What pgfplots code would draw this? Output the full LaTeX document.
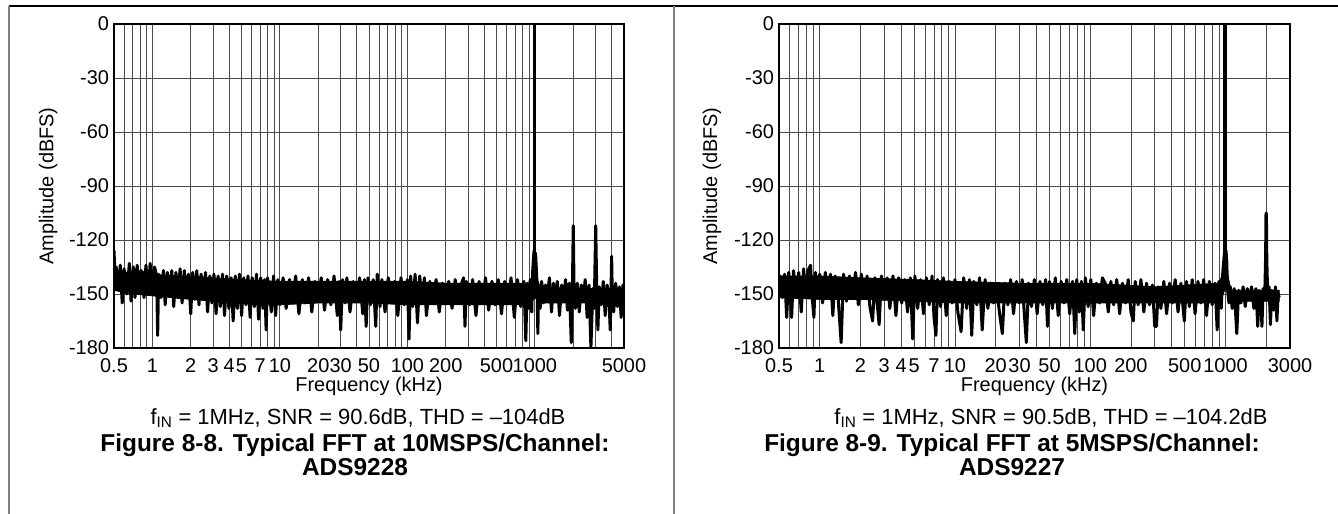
\documentclass[border=0pt]{standalone}
\usepackage{fontspec}
\setmainfont{Liberation Sans}
\usepackage{pgfplots}
\pgfplotsset{compat=1.18}

\begin{document}
\begin{tikzpicture}
\path[use as bounding box] (0,0) rectangle (1338bp,514bp);
\draw[black, line width=1.2bp] (9bp,508bp) -- (1338bp,508bp);
\draw[black!50, line width=1.5bp] (9bp,508bp) -- (9bp,0);
\draw[black!50, line width=1.5bp] (674bp,508bp) -- (674bp,0);

% ---------------- Left: ADS9228, 10 MSPS ----------------
\begin{axis}[at={(114bp,166bp)}, anchor=south west,
  xmode=log, scale only axis, width=510bp, height=324bp,
  ymin=-180, ymax=0, xmin=0.5, xmax=5000,
  ytick={-180,-150,-120,-90,-60,-30,0},
  yticklabels={-180,-150,-120,-90,-60,-30,0},
  xtick={0.5,1,2,3,4,5,7,10,20,30,50,100,200,500,1000,5000},
  xticklabels={0.5,1,2,3,4,5,7,10,20,30,50,100,200,500,1000,5000},
  minor xtick={0.6,0.7,0.8,0.9,6,8,9,40,60,70,80,90,300,400,600,700,800,900,2000,3000,4000},
  grid=both,
  major grid style={line width=0.8bp, draw=black!70},
  minor grid style={line width=0.8bp, draw=black!70},
  major tick length=0pt, minor tick length=0pt,
  axis line style={line width=2.2bp},
  tick label style={font=\fontsize{20}{22}\selectfont},
  label style={font=\fontsize{20}{22}\selectfont},
  xticklabel style={anchor=base, yshift=-24.5bp},
  yticklabel style={xshift=-1.5bp},
  xlabel={Frequency (kHz)}, ylabel={Amplitude (dBFS)},
  xlabel style={at={(axis description cs:0.5,0)}, anchor=base, yshift=-43.5bp},
  ylabel style={at={(axis description cs:-0.129,0.5)}, anchor=center}]
\addplot[fill=black, draw=black, line width=0.8bp, mark=none] coordinates {
(0.5,-138) (0.6,-138) (0.8,-137) (1,-139) (1.5,-140) (2,-140) (3,-141) (5,-142) (10,-143) (20,-143) (50,-143) (100,-143) (200,-144) (500,-144) (900,-144) (1000,-138) (1100,-146) (2000,-147) (5000,-147)
(5000,-155) (3000,-155) (2000,-155) (1100,-155) (1000,-152) (900,-156) (500,-156) (200,-156) (100,-156) (50,-155) (20,-155) (10,-156) (5,-155) (3,-154) (2,-153) (1,-151) (0.7,-150) (0.5,-148)
};
\addplot[black, line width=3bp, line join=round, mark=none] coordinates {
(0.50,-126) (0.51,-140) (0.52,-135) (0.54,-147) (0.56,-134) (0.58,-155) (0.60,-136) (0.63,-150) (0.66,-133) (0.68,-154)
(0.71,-135) (0.73,-152) (0.76,-134) (0.79,-149) (0.82,-137) (0.86,-152) (0.89,-134) (0.93,-150) (0.96,-133) (1.00,-148)
(1.04,-135) (1.08,-140) (1.10,-173) (1.12,-139) (1.17,-152) (1.22,-137) (1.26,-156) (1.31,-138) (1.36,-151) (1.42,-137)
(1.47,-157) (1.53,-138) (1.58,-152) (1.65,-136) (1.71,-155) (1.78,-137) (1.85,-150) (1.92,-139) (2.00,-161) (2.07,-138)
(2.15,-153) (2.23,-137) (2.32,-156) (2.41,-139) (2.51,-152) (2.61,-138) (2.71,-160) (2.82,-140) (2.93,-155) (3.04,-139)
(3.16,-161) (3.28,-140) (3.41,-157) (3.55,-139) (3.68,-162) (3.83,-140) (3.98,-158) (4.14,-141) (4.30,-165) (4.47,-140)
(4.64,-158) (4.82,-139) (5.01,-162) (5.21,-141) (5.41,-156) (5.62,-140) (5.84,-163) (6.07,-141) (6.31,-157) (6.56,-139)
(6.81,-164) (7.08,-141) (7.36,-158) (7.60,-142) (7.80,-170) (8.00,-141) (8.58,-160) (8.92,-140) (9.26,-162) (9.63,-142)
(10.0,-156) (10.6,-141) (11.2,-158) (11.9,-142) (12.6,-154) (13.3,-140) (14.1,-161) (15.0,-142) (15.8,-155) (16.8,-141)
(17.8,-160) (18.8,-143) (20.0,-153) (21.1,-141) (22.4,-159) (23.7,-142) (25.1,-156) (26.6,-140) (28.2,-162) (29.2,-143)
(30.0,-170) (31.0,-142) (32.5,-155) (33.5,-141) (35.5,-160) (37.6,-143) (39.8,-154) (42.2,-141) (44.7,-161) (46.0,-142)
(47.5,-168) (49.0,-141) (51.3,-156) (54.0,-142) (56.5,-168) (58.0,-139) (61.0,-157) (63.1,-142) (66.8,-160) (70.8,-141)
(75.0,-155) (79.4,-143) (84.1,-162) (89.1,-141) (94.4,-156) (100,-142) (103,-175) (106,-140) (110,-157) (115,-139)
(120,-166) (125,-140) (130,-155) (136,-141) (141,-162) (150,-143) (158,-154) (168,-142) (178,-160) (188,-144)
(200,-155) (211,-143) (224,-158) (237,-142) (251,-153) (266,-144) (276,-141) (283,-168) (290,-143) (308,-156)
(325,-142) (345,-162) (365,-143) (387,-155) (410,-141) (434,-159) (460,-143) (487,-156) (516,-142) (547,-161)
(580,-143) (614,-155) (650,-141) (690,-163) (730,-142) (775,-157) (820,-143) (849,-176) (870,-144) (900,-158)
(920,-142) (945,-160) (960,-138) (975,-130) (985,-126) (995,-128) (1005,-127) (1015,-129) (1025,-135) (1040,-145)
(1055,-172) (1070,-146) (1100,-158) (1130,-143) (1170,-155) (1210,-145) (1250,-152) (1300,-141) (1350,-160) (1400,-144)
(1450,-154) (1500,-143) (1560,-162) (1620,-145) (1680,-153) (1740,-142) (1800,-159) (1860,-144) (1930,-177) (1970,-146)
(2000,-112) (2030,-148) (2080,-158) (2150,-144) (2230,-160) (2310,-145) (2400,-153) (2480,-142) (2570,-163) (2660,-145)
(2750,-180) (2850,-147) (2920,-158) (3000,-112) (3060,-150) (3120,-170) (3200,-146) (3320,-156) (3440,-143) (3560,-162)
(3690,-145) (3820,-155) (3900,-170) (3960,-146) (4000,-129) (4040,-148) (4150,-160) (4300,-144) (4450,-157) (4600,-146)
(4750,-163) (4900,-145) (5000,-150)
};
\addplot[black, line width=3bp, mark=none] coordinates {(1000,-140) (1000,0)};
\end{axis}

% ---------------- Right: ADS9227, 5 MSPS ----------------
\begin{axis}[at={(779bp,166bp)}, anchor=south west,
  xmode=log, scale only axis, width=511bp, height=324bp,
  ymin=-180, ymax=0, xmin=0.5, xmax=3000,
  ytick={-180,-150,-120,-90,-60,-30,0},
  yticklabels={-180,-150,-120,-90,-60,-30,0},
  xtick={0.5,1,2,3,4,5,7,10,20,30,50,100,200,500,1000,3000},
  xticklabels={0.5,1,2,3,4,5,7,10,20,30,50,100,200,500,1000,3000},
  minor xtick={0.6,0.7,0.8,0.9,6,8,9,40,60,70,80,90,300,400,600,700,800,900,2000},
  grid=both,
  major grid style={line width=0.8bp, draw=black!70},
  minor grid style={line width=0.8bp, draw=black!70},
  major tick length=0pt, minor tick length=0pt,
  axis line style={line width=2.2bp},
  tick label style={font=\fontsize{20}{22}\selectfont},
  label style={font=\fontsize{20}{22}\selectfont},
  xticklabel style={anchor=base, yshift=-24.5bp},
  yticklabel style={xshift=-1.5bp},
  xlabel={Frequency (kHz)}, ylabel={Amplitude (dBFS)},
  xlabel style={at={(axis description cs:0.5,0)}, anchor=base, yshift=-43.5bp},
  ylabel style={at={(axis description cs:-0.131,0.5)}, anchor=center}]
\addplot[fill=black, draw=black, line width=0.8bp, mark=none] coordinates {
(0.5,-140) (1,-140) (2,-141) (5,-142) (10,-143) (30,-144) (100,-144) (300,-146) (900,-144) (1000,-133) (1100,-148) (2500,-148)
(2500,-154) (1100,-154) (1000,-147) (900,-155) (300,-155) (100,-155) (30,-155) (10,-155) (5,-154) (2,-153) (1,-153) (0.5,-152)
};
\addplot[black, line width=3bp, line join=round, mark=none] coordinates {
(0.50,-150) (0.51,-140) (0.53,-152) (0.55,-139) (0.57,-163) (0.59,-138) (0.62,-163) (0.64,-137) (0.67,-152) (0.70,-138)
(0.73,-160) (0.76,-136) (0.79,-150) (0.82,-137) (0.855,-134) (0.88,-152) (0.906,-163) (0.93,-138) (0.97,-150) (1.00,-139)
(1.05,-155) (1.10,-138) (1.15,-152) (1.20,-139) (1.25,-162) (1.30,-140) (1.37,-153) (1.44,-177) (1.50,-139) (1.58,-154)
(1.66,-140) (1.75,-150) (1.84,-138) (1.93,-156) (2.03,-139) (2.13,-152) (2.24,-140) (2.35,-157) (2.46,-165) (2.56,-141)
(2.65,-154) (2.75,-167) (2.86,-140) (3.00,-153) (3.15,-141) (3.30,-158) (3.48,-140) (3.66,-162) (3.84,-141) (4.04,-155)
(4.25,-142) (4.46,-160) (4.68,-141) (4.87,-175) (5.05,-140) (5.30,-158) (5.56,-142) (5.85,-161) (6.15,-141) (6.45,-156)
(6.77,-140) (7.00,-163) (7.23,-173) (7.45,-142) (7.82,-157) (8.21,-141) (8.62,-162) (9.05,-143) (9.50,-155) (10.0,-142)
(10.5,-160) (11.1,-171) (11.6,-141) (12.2,-158) (12.8,-142) (13.3,-173) (13.8,-143) (14.5,-156) (15.2,-141) (15.9,-170)
(16.7,-142) (17.5,-158) (18.4,-144) (19.3,-155) (20.2,-145) (21.3,-160) (22.4,-172) (23.4,-144) (24.6,-156) (25.8,-142)
(27.1,-161) (28.5,-143) (29.9,-155) (31.4,-142) (32.5,-160) (33.7,-177) (35.0,-144) (36.8,-157) (38.6,-142) (40.5,-161)
(42.5,-143) (44.6,-156) (46.8,-142) (48.3,-168) (50.0,-143) (52.5,-158) (55.2,-141) (58.0,-162) (60.9,-143) (63.9,-155)
(67.1,-142) (70.5,-161) (74.0,-143) (76.9,-172) (79.5,-142) (83.0,-160) (86.0,-143) (88.8,-170) (92.0,-141) (96.5,-157)
(101,-142) (106,-162) (111,-144) (117,-155) (123,-141) (129,-144) (136,-160) (142,-143) (149,-156) (157,-142)
(165,-161) (173,-144) (182,-155) (191,-142) (200,-160) (208,-165) (215,-143) (226,-156) (237,-142) (249,-160)
(261,-144) (274,-156) (288,-145) (300,-168) (309,-168) (318,-146) (333,-158) (350,-143) (367,-161) (386,-144)
(405,-155) (425,-142) (446,-160) (468,-144) (496,-165) (515,-143) (541,-157) (568,-142) (596,-161) (626,-143)
(657,-155) (690,-142) (724,-162) (760,-143) (798,-156) (838,-144) (868,-170) (895,-143) (930,-158) (955,-138)
(975,-130) (990,-125) (1000,-127) (1010,-126) (1022,-132) (1035,-147) (1060,-155) (1085,-146) (1120,-158) (1160,-147)
(1212,-172) (1250,-148) (1300,-155) (1350,-146) (1400,-157) (1450,-147) (1500,-153) (1560,-146) (1620,-158) (1680,-147)
(1732,-168) (1780,-148) (1830,-155) (1860,-168) (1900,-147) (1950,-152) (1980,-130) (1993,-106) (2000,-105) (2007,-106)
(2020,-130) (2050,-150) (2100,-146) (2150,-167) (2200,-148) (2270,-159) (2340,-146) (2400,-165) (2450,-150) (2500,-152)
};
\addplot[black, line width=4bp, mark=none] coordinates {(1000,-135) (1000,0)};
\end{axis}

\node[font=\fontsize{22}{24}\selectfont] at (358bp,96bp) {f\textsubscript{IN} = 1MHz, SNR = 90.6dB, THD = –104dB};
\node[font=\bfseries\fontsize{24.5}{24}\selectfont, align=center] at (355bp,59bp) {Figure 8-8. Typical FFT at 10MSPS/Channel:\\ADS9228};
\node[font=\fontsize{22}{24}\selectfont] at (1051bp,96bp) {f\textsubscript{IN} = 1MHz, SNR = 90.5dB, THD = –104.2dB};
\node[font=\bfseries\fontsize{24.5}{24}\selectfont, align=center] at (1012bp,59bp) {Figure 8-9. Typical FFT at 5MSPS/Channel:\\ADS9227};
\end{tikzpicture}
\end{document}
